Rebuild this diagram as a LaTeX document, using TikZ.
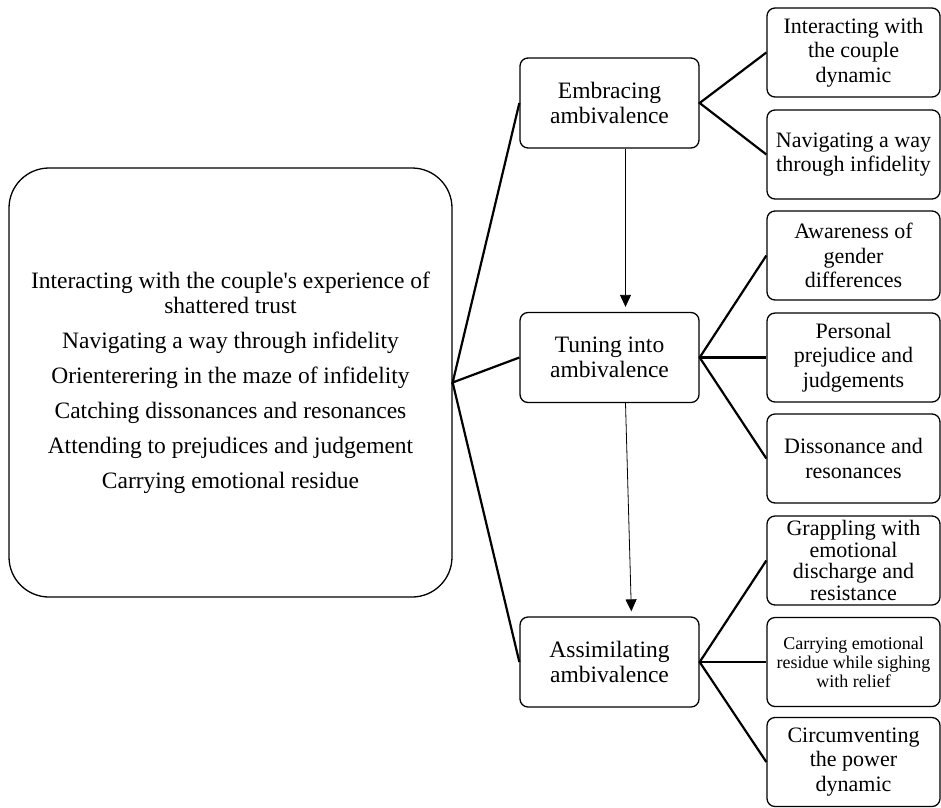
\documentclass[tikz,border=0pt]{standalone}
\usepackage{fontspec}
\setmainfont{Liberation Serif}
\usetikzlibrary{arrows.meta}

\tikzset{
  theme/.style={draw, line width=1.3pt, rounded corners=8pt,
    minimum width=179pt, minimum height=90pt, align=center,
    inner sep=2pt, font=\fontsize{23.5}{25}\selectfont},
  sub/.style={draw, line width=1.3pt, rounded corners=8pt,
    minimum width=173pt, minimum height=89pt, align=center,
    inner sep=1pt, font=\fontsize{22}{24.5}\selectfont},
  link/.style={line width=2.2pt},
  flow/.style={line width=0.8pt, -{Triangle[length=12pt,width=11pt]},
    shorten >=5pt}
}

\begin{document}
\begin{tikzpicture}[x=1pt,y=1pt]
  \useasboundingbox (0,0) rectangle (941,-807);

  % the large box on the left
  \node[draw, line width=1.3pt, rounded corners=40pt,
    minimum width=443pt, minimum height=429pt, align=center,
    font=\fontsize{23.5}{25}\selectfont] (core) at (230.5,-382.5)
    {Interacting with the couple\textquotesingle s experience of\\
     shattered trust\\[10pt]
     Navigating a way through infidelity\\[10pt]
     Orienterering in the maze of infidelity\\[10pt]
     Catching dissonances and resonances\\[10pt]
     Attending to prejudices and judgement\\[10pt]
     Carrying emotional residue};

  % middle column
  \node[theme] (embr) at (609.5,-103) {Embracing\\ambivalence};
  \node[theme] (tune) at (609.5,-357.5) {Tuning into\\ambivalence};
  \node[theme] (assim) at (609.5,-662) {Assimilating\\ambivalence};

  % right column
  \node[sub] (couple) at (853.5,-52.5) {Interacting with\\the couple\\dynamic};
  \node[sub] (navig) at (853.5,-154.5) {Navigating a way\\through infidelity};
  \node[sub] (gender) at (853.5,-255.5) {Awareness of\\gender\\differences};
  \node[sub] (prej) at (853.5,-357.5) {Personal\\prejudice and\\judgements};
  \node[sub] (disso) at (853.5,-458.5) {Dissonance and\\resonances};
  \node[sub, font=\fontsize{22}{21.5}\selectfont] (grapp) at (853.5,-560.5)
    {Grappling with\\emotional\\discharge and\\resistance};
  \node[sub, font=\fontsize{18}{19}\selectfont] (resid) at (853.5,-662)
    {Carrying emotional\\residue while sighing\\with relief};
  \node[sub] (power) at (853.5,-762) {Circumventing\\the power\\dynamic};

  % connectors
  \draw[link] (embr.west) -- (core.east) -- (tune.west);
  \draw[link] (core.east) -- (assim.west);
  \draw[link] (couple.west) -- (embr.east) -- (navig.west);
  \draw[link] (gender.west) -- (tune.east) -- (disso.west);
  \draw[link] (tune.east) -- (prej.west);
  \draw[link] (grapp.west) -- (assim.east) -- (power.west);
  \draw[link] (assim.east) -- (resid.west);

  % arrows down the middle
  \draw[flow] ([xshift=16pt]embr.south) -- ([xshift=16pt]tune.north);
  \draw[flow] ([xshift=16pt]tune.south) -- ([xshift=22pt]assim.north);
\end{tikzpicture}
\end{document}
